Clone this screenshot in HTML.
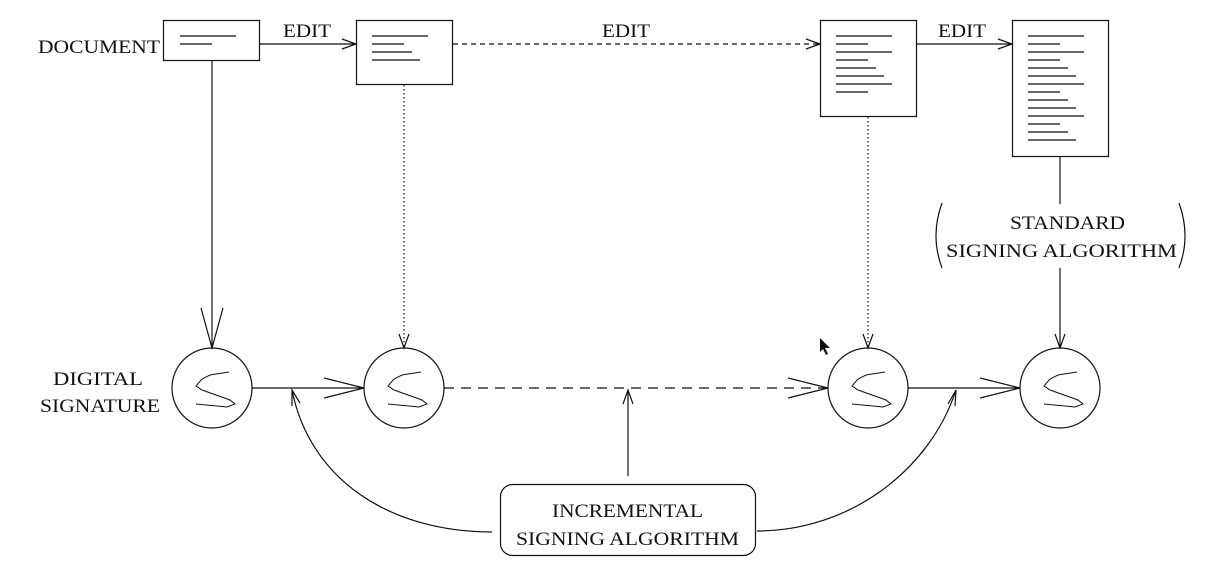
<!DOCTYPE html>
<html><head><meta charset="utf-8"><style>
html,body{margin:0;padding:0;background:#fff;}
svg{display:block;}
text{font-family:"Liberation Serif",serif;font-size:19px;fill:#111;}
</style></head><body>
<svg width="1214" height="580" viewBox="0 0 1214 580" xmlns="http://www.w3.org/2000/svg">
<defs>
<g id="S"><polyline points="17,-16 -2,-13 -10,-9 -16,-2 -10,2 18,12 23,16 15,19 -16,16" fill="none" stroke="#111" stroke-width="1"/></g>
</defs>
<g stroke="#111" stroke-width="1.2" fill="none">
<rect x="163.5" y="20.5" width="96" height="40"/>
<rect x="356.5" y="20.5" width="96" height="64"/>
<rect x="820.5" y="20.5" width="96" height="96"/>
<rect x="1012.5" y="20.5" width="96" height="136"/>
<path d="M180 36h56M180 44h32"/>
<path d="M372 36h56M372 44h32M372 52h40M372 60h48"/>
<path d="M836 36h56M836 44h32M836 52h56M836 60h32M836 68h40M836 76h48M836 84h56M836 92h32"/>
<path d="M1028 36h56M1028 44h32M1028 52h56M1028 60h32M1028 68h40M1028 76h48M1028 84h56M1028 92h32M1028 100h40M1028 108h48M1028 116h56M1028 124h32M1028 132h40M1028 140h48"/>
<path d="M260 44H356M342 39L356 44L342 49"/>
<path d="M453 44H820" stroke-dasharray="5,4"/>
<path d="M806 39L820 44L806 49"/>
<path d="M917 44H1012M998 39L1012 44L998 49"/>
<path d="M212 61V348M201 308L212 348L223 308"/>
<path d="M404 85V348" stroke-dasharray="1.5,2.5"/>
<path d="M399 334L404 348L409 334"/>
<path d="M868 117V348" stroke-dasharray="1.5,2.5"/>
<path d="M863 334L868 348L873 334"/>
<path d="M1060 157V204M1060 268V348M1055 334L1060 348L1065 334"/>
<circle cx="212" cy="388" r="40"/>
<circle cx="404" cy="388" r="40"/>
<circle cx="868" cy="388" r="40"/>
<circle cx="1060" cy="388" r="40"/>
<path d="M252 388H364M324 378L364 388L324 398"/>
<path d="M444 388H828" stroke-dasharray="10,7"/>
<path d="M788 378L828 388L788 398"/>
<path d="M908 388H1020M980 378L1020 388L980 398"/>
<rect x="500.5" y="484.5" width="255" height="71" rx="12"/>
<path d="M628 476V390M623 404L628 390L633 404"/>
<path d="M492 532C390 532 310 480 292 390M292 406L292 390L300 403"/>
<path d="M757 531C850 531 930 470 956 390M948 404L956 390L955 406"/>
<path d="M942 203Q930 236 942 268"/>
<path d="M1179 203Q1191 236 1179 268"/>
</g>
<use href="#S" x="212" y="388"/>
<use href="#S" x="404" y="388"/>
<use href="#S" x="868" y="388"/>
<use href="#S" x="1060" y="388"/>
<path d="M820 338L820 352L823 349L826 355L828 354L825 348L830 348Z" fill="#111"/>
<text x="38" y="53" textLength="122" lengthAdjust="spacingAndGlyphs">DOCUMENT</text>
<text x="283" y="37" textLength="48" lengthAdjust="spacingAndGlyphs">EDIT</text>
<text x="602" y="37" textLength="48" lengthAdjust="spacingAndGlyphs">EDIT</text>
<text x="938" y="37" textLength="48" lengthAdjust="spacingAndGlyphs">EDIT</text>
<text x="53" y="385" textLength="90" lengthAdjust="spacingAndGlyphs">DIGITAL</text>
<text x="40" y="412" textLength="120" lengthAdjust="spacingAndGlyphs">SIGNATURE</text>
<text x="1010" y="229" textLength="115" lengthAdjust="spacingAndGlyphs">STANDARD</text>
<text x="946" y="257" textLength="231" lengthAdjust="spacingAndGlyphs">SIGNING ALGORITHM</text>
<text x="552" y="517" textLength="151" lengthAdjust="spacingAndGlyphs">INCREMENTAL</text>
<text x="516" y="545" textLength="223" lengthAdjust="spacingAndGlyphs">SIGNING ALGORITHM</text>
</svg>
</body></html>
